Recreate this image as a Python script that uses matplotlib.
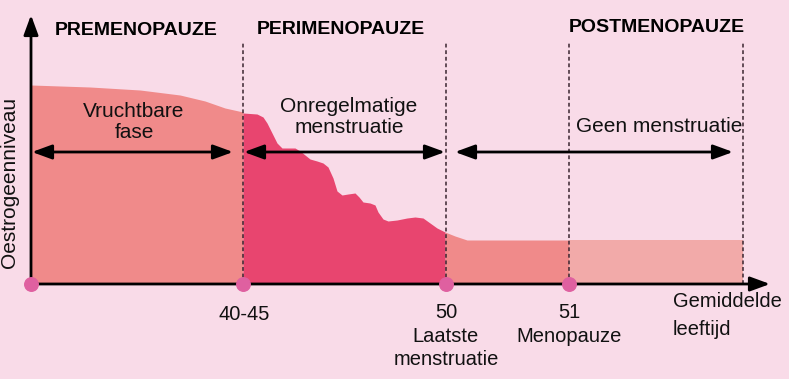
import matplotlib.pyplot as plt
import numpy as np

# timeline x (0 = start of axis) and oestrogen level (0 = x axis)
pre_x = [0, 59, 109, 149, 174, 194, 212]
pre_lvl = [199, 197, 194, 189, 183, 176, 172]

peri_x = [212, 226, 232, 236, 241, 246, 251, 257, 264, 269, 274, 279, 286, 292,
          297, 302, 306, 311, 317, 324, 328, 332, 339, 344, 347, 352, 357, 366,
          376, 384, 392, 399, 406, 414]
peri_lvl = [171, 170, 167, 161, 151, 141, 136, 136, 136, 133, 129, 125, 123, 121,
            117, 106, 93, 89, 90, 91, 87, 82, 81, 79, 72, 65, 63, 64,
            66, 67, 66, 61, 56, 52]

post_x = [414, 424, 436, 538]
post_lvl = [52, 48, 44, 44]

late_x = [538, 712]
late_lvl = [44, 44]

stage_names = ["PREMENOPAUZE", "PERIMENOPAUZE", "POSTMENOPAUZE"]
stage_x = [105, 310, 626]
stage_y = [249, 250, 252]

dot_x = [0, 212, 415, 538]
dash_x = [212, 415, 538, 712]

phase_lines = [["Vruchtbare", "fase"], ["Onregelmatige", "menstruatie"], ["Geen menstruatie"]]
phase_x = [103, 318, 628]
phase_y = [[167, 146], [172, 151], [152]]

span_arrows = [(1, 202), (213, 414), (424, 702)]
arrow_y = 132

tick_lines = [["40-45"], ["50", "Laatste", "menstruatie"], ["51", "Menopauze"]]
tick_x = [213, 415, 538]
tick_y = [[-36], [-34, -58, -81], [-34, -58]]

bg = "#f9dbe8"
salmon = "#f08a8a"
deep = "#e8456f"
light = "#f2aaa9"
dotc = "#df60a0"

plt.rcParams['font.family'] = ['Liberation Sans', 'DejaVu Sans']

fig = plt.figure(figsize=(7.89, 3.79), dpi=100, facecolor=bg)
ax = fig.add_axes([0, 0, 1, 1])
ax.set_facecolor(bg)
ax.set_xlim(-31, 758)
ax.set_ylim(-95, 284)
ax.axis('off')

## Oestrogen curve areas
ax.fill_between(pre_x, 0, pre_lvl, color=salmon, lw=0, zorder=1)
ax.fill_between(post_x, 0, post_lvl, color=salmon, lw=0, zorder=1)
ax.fill_between(late_x, 0, late_lvl, color=light, lw=0, zorder=1)
ax.fill_between(peri_x, 0, peri_lvl, color=deep, lw=0, zorder=2)

## Dashed boundaries
for x in dash_x:
    ax.plot([x, x], [0, 241], color="#3a2530", lw=1.1, ls=(0, (2.5, 1.8)), zorder=3)

## Axes with arrows
ax.annotate("", xy=(0, 269), xytext=(0, -1),
            arrowprops=dict(arrowstyle="-|>,head_length=0.6,head_width=0.22",
                            mutation_scale=20, lw=2, color="black",
                            shrinkA=0, shrinkB=0), zorder=4)
ax.annotate("", xy=(739, 0), xytext=(-1, 0),
            arrowprops=dict(arrowstyle="-|>,head_length=0.6,head_width=0.22",
                            mutation_scale=20, lw=2, color="black",
                            shrinkA=0, shrinkB=0), zorder=4)

## Double arrows for the phases
for x0, x1 in span_arrows:
    ax.annotate("", xy=(x1, arrow_y), xytext=(x0, arrow_y),
                arrowprops=dict(arrowstyle="<|-|>,head_length=0.6,head_width=0.22",
                                mutation_scale=20, lw=2, color="black",
                                shrinkA=0, shrinkB=0), zorder=5)

ax.scatter(dot_x, np.zeros(len(dot_x)), s=95, color=dotc, zorder=6, clip_on=False)

for name, x, y in zip(stage_names, stage_x, stage_y):
    ax.text(x, y, name, ha='center', va='baseline', fontsize=14,
            fontweight='bold', color="black")

for lines, x, ys in zip(phase_lines, phase_x, phase_y):
    for t, y in zip(lines, ys):
        ax.text(x, y, t, ha='center', va='baseline', fontsize=15, color="#111111", zorder=7)

for lines, x, ys in zip(tick_lines, tick_x, tick_y):
    for t, y in zip(lines, ys):
        ax.text(x, y, t, ha='center', va='baseline', fontsize=14.5, color="#111111")

ax.text(642, -23, "Gemiddelde", ha='left', va='baseline', fontsize=14.5, color="#111111")
ax.text(642, -51, "leeftijd", ha='left', va='baseline', fontsize=14.5, color="#111111")

ax.text(-21, 102, "Oestrogeenniveau", rotation=90, ha='center', va='center',
        fontsize=15, color="#111111")

plt.savefig("out.png", dpi=100, facecolor=bg)
